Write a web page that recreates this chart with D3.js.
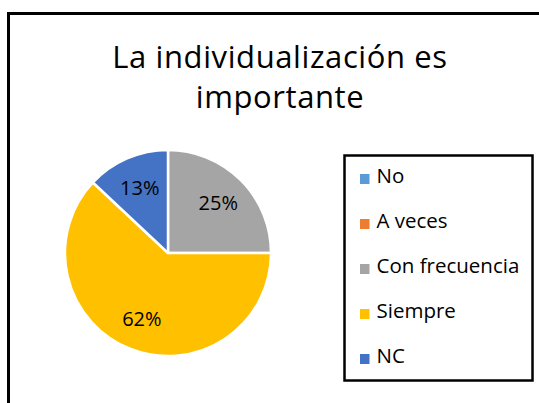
<!DOCTYPE html>
<html>
<head>
<meta charset="utf-8">
<script src="https://cdn.jsdelivr.net/npm/d3@7"></script>
<style>
  html, body { margin: 0; padding: 0; background: #fff; }
  svg { display: block; font-family: "Open Sans", Lato, sans-serif; }
</style>
</head>
<body>
<svg id="chart" width="539" height="403"></svg>
<script>
const titleLines = ["La individualización es", "importante"];
const categories = ["No", "A veces", "Con frecuencia", "Siempre", "NC"];
const values = [0, 0, 25, 62, 13];
const labels = ["0%", "0%", "25%", "62%", "13%"];
const colors = ["#5B9BD5", "#ED7D31", "#A5A5A5", "#FFC000", "#4472C4"];

const svg = d3.select("#chart");

// outer frame
svg.append("rect")
  .attr("x", 8.5).attr("y", 13.5)
  .attr("width", 560).attr("height", 420)
  .attr("fill", "none").attr("stroke", "#000").attr("stroke-width", 3);

// title
svg.append("text")
  .attr("text-anchor", "middle")
  .attr("font-size", 31)
  .attr("letter-spacing", 0.6)
  .attr("fill", "#000")
  .selectAll("tspan").data(titleLines).join("tspan")
  .attr("x", 280)
  .attr("y", (d, i) => 67.5 + i * 40)
  .text(d => d);

// pie
const cx = 168, cy = 253, r = 103;
const data = categories.map((c, i) => ({ cat: c, value: values[i], label: labels[i], color: colors[i] }));
const pie = d3.pie().sort(null).value(d => d.value);
const arcs = pie(data);
const arc = d3.arc().innerRadius(0).outerRadius(r);
const labelArc = d3.arc().innerRadius(r * 0.69).outerRadius(r * 0.69);

const g = svg.append("g").attr("transform", `translate(${cx},${cy})`);
g.selectAll("path").data(arcs.filter(d => d.data.value > 0)).join("path")
  .attr("d", arc)
  .attr("fill", d => d.data.color)
  .attr("stroke", "#fff")
  .attr("stroke-width", 2.5)
  .attr("stroke-linejoin", "round");

g.selectAll("text").data(arcs.filter(d => d.data.value > 0)).join("text")
  .attr("transform", d => `translate(${labelArc.centroid(d)})`)
  .attr("text-anchor", "middle")
  .attr("dy", "0.36em")
  .attr("font-size", 20)
  .attr("fill", "#000")
  .text(d => d.data.label);

// legend
const legend = svg.append("g");
legend.append("rect")
  .attr("x", 344.5).attr("y", 155.5)
  .attr("width", 188).attr("height", 225)
  .attr("fill", "#fff").attr("stroke", "#000").attr("stroke-width", 2.5);

const ly = d3.scalePoint().domain(categories).range([179, 359]);
const items = legend.selectAll("g.item").data(data).join("g")
  .attr("class", "item")
  .attr("transform", d => `translate(0,${ly(d.cat)})`);
items.append("rect")
  .attr("x", 360).attr("y", -5)
  .attr("width", 9.5).attr("height", 10)
  .attr("fill", d => d.color);
items.append("text")
  .attr("x", 376.5).attr("y", 3.5)
  .attr("font-size", 20.5)
  .attr("fill", "#000")
  .text(d => d.cat);
</script>
</body>
</html>
